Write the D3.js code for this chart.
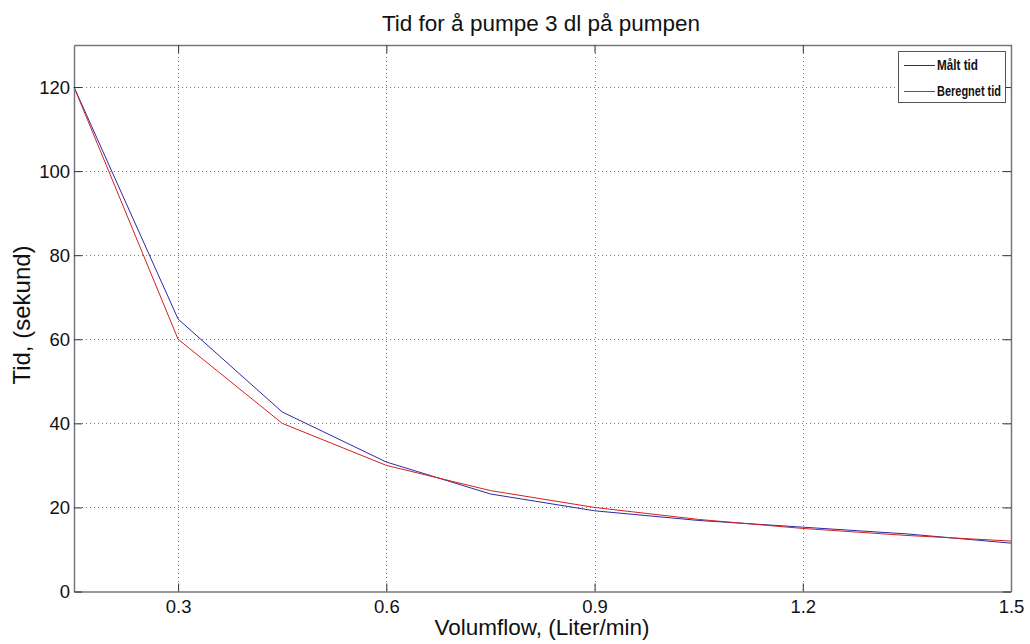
<!DOCTYPE html>
<html><head><meta charset="utf-8">
<script src="https://cdn.jsdelivr.net/npm/d3@7"></script>
<style>body{margin:0;background:#fff}svg{display:block}</style>
</head><body>
<svg id="c" width="1030" height="644"></svg>
<script>
const flow = [0.15, 0.3, 0.45, 0.6, 0.75, 0.9, 1.05, 1.2, 1.35, 1.5];
const maltTid = [120, 64.8, 42.7, 30.8, 23.2, 19.2, 16.9, 15.3, 13.7, 11.5];
const beregnetTid = [120, 60, 40, 30, 24, 20, 17.14, 15, 13.33, 12];
const xTicks = [0.3, 0.6, 0.9, 1.2, 1.5];
const yTicks = [0, 20, 40, 60, 80, 100, 120];
const seriesNames = ["Målt tid", "Beregnet tid"];
const seriesColors = ["#2a2aa6", "#d42020"];
const title = "Tid for å pumpe 3 dl på pumpen";
const xLabel = "Volumflow, (Liter/min)";
const yLabel = "Tid, (sekund)";

const svg = d3.select("#c");
const L = 74, R = 1011, T = 45, B = 591.5;
const x = d3.scaleLinear().domain([0.15, 1.5]).range([L, R]);
const y = d3.scaleLinear().domain([0, 130]).range([B, T]);
const font = "'Liberation Sans', Arial, sans-serif";

// grid
const g = svg.append("g");
g.selectAll(".gx").data(xTicks.filter(d => d < 1.5)).enter().append("line")
  .attr("x1", d => Math.round(x(d)) + 0.5).attr("x2", d => Math.round(x(d)) + 0.5)
  .attr("y1", T).attr("y2", B).attr("stroke", "#777").attr("stroke-dasharray", "1,3");
g.selectAll(".gy").data(yTicks.filter(d => d > 0)).enter().append("line")
  .attr("y1", d => Math.round(y(d)) + 0.5).attr("y2", d => Math.round(y(d)) + 0.5)
  .attr("x1", L).attr("x2", R).attr("stroke", "#777").attr("stroke-dasharray", "1,3");

// series
const line = d3.line().x((d, i) => x(flow[i])).y(d => y(d));
[maltTid, beregnetTid].forEach((s, k) => {
  svg.append("path").datum(s).attr("d", line).attr("fill", "none")
    .attr("stroke", seriesColors[k]).attr("stroke-width", 1);
});

// axes (MATLAB style, inward ticks on all sides)
const xa = svg.append("g").attr("transform", `translate(0,${B})`)
  .call(d3.axisBottom(x).tickValues(xTicks).tickSizeInner(-8).tickSizeOuter(0).tickPadding(8).tickFormat(d3.format(".1f")));
const xt = svg.append("g").attr("transform", `translate(0,${T})`)
  .call(d3.axisTop(x).tickValues(xTicks).tickSizeInner(-8).tickSizeOuter(0).tickFormat(""));
const ya = svg.append("g").attr("transform", `translate(${L},0)`)
  .call(d3.axisLeft(y).tickValues(yTicks).tickSizeInner(-8).tickSizeOuter(0).tickPadding(4));
const yr = svg.append("g").attr("transform", `translate(${R},0)`)
  .call(d3.axisRight(y).tickValues(yTicks).tickSizeInner(-8).tickSizeOuter(0).tickFormat(""));
[xa, xt, ya, yr].forEach(a => {
  a.select(".domain").attr("stroke", "#777").attr("stroke-width", 1.5);
  a.selectAll(".tick line").attr("stroke", "#333");
  a.selectAll("text").attr("font-family", font).attr("font-size", 18.5).attr("fill", "#111");
});
xa.selectAll("text").attr("dy", "0.71em");
ya.selectAll("text").attr("dy", "0.35em");

// titles
svg.append("text").attr("x", 541).attr("y", 31).attr("text-anchor", "middle")
  .attr("font-family", font).attr("font-size", 22.5).attr("fill", "#111").text(title);
svg.append("text").attr("x", 542).attr("y", 635).attr("text-anchor", "middle")
  .attr("font-family", font).attr("font-size", 22.5).attr("fill", "#111").text(xLabel);
svg.append("text").attr("transform", `translate(30,315) rotate(-90)`).attr("text-anchor", "middle")
  .attr("font-family", font).attr("font-size", 24).attr("fill", "#111").text(yLabel);

// legend
const lg = svg.append("g");
lg.append("rect").attr("x", 898.5).attr("y", 51.5).attr("width", 107).attr("height", 51)
  .attr("fill", "#fff").attr("stroke", "#555").attr("stroke-width", 1);
const legW = [41, 64];
seriesNames.forEach((n, k) => {
  const yy = 65 + k * 26;
  lg.append("line").attr("x1", 904).attr("x2", 935).attr("y1", yy + 0.5).attr("y2", yy + 0.5)
    .attr("stroke", seriesColors[k]);
  lg.append("text").attr("x", 937).attr("y", yy).attr("dy", "0.35em")
    .attr("font-family", font).attr("font-weight", "bold").attr("font-size", 14.5)
    .attr("textLength", legW[k]).attr("lengthAdjust", "spacingAndGlyphs")
    .attr("fill", "#111").text(n);
});
</script>
</body></html>
